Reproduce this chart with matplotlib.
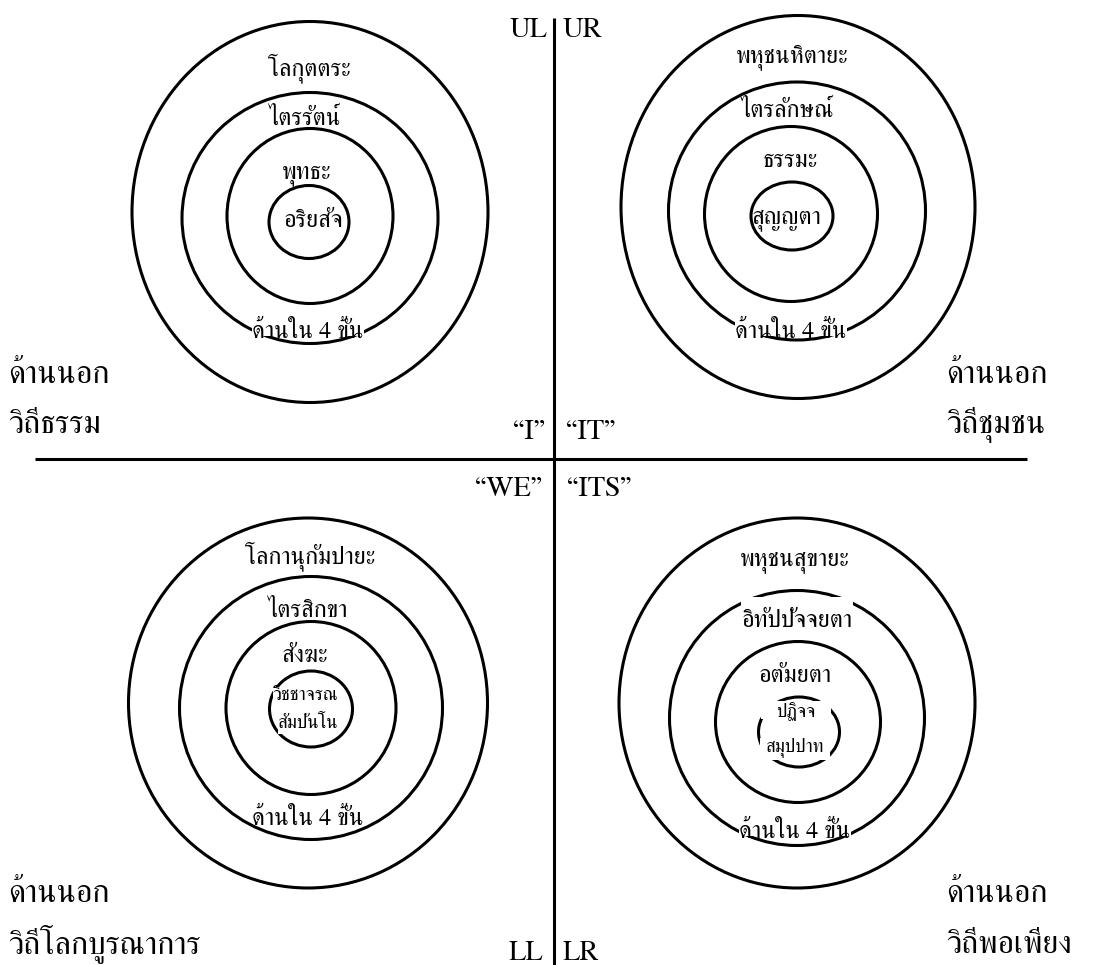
import matplotlib
matplotlib.use("Agg")
import matplotlib.pyplot as plt
from matplotlib.patches import Ellipse
from matplotlib.path import Path

# text content of the four quadrants
corner_tags = ["UL", "UR", "LL", "LR"]
pronoun_tags = ["“I”", "“IT”", "“WE”", "“ITS”"]
outer_word = "ด้านนอก"
way_labels = ["วิถีธรรม", "วิถีชุมชน", "วิถีโลกบูรณาการ", "วิถีพอเพียง"]
inner_caption = "ด้านใน 4 ขั้น"

ul_rings = ["โลกุตตระ", "ไตรรัตน์", "พุทธะ", "อริยสัจ"]
ur_rings = ["พหุชนหิตายะ", "ไตรลักษณ์", "ธรรมะ", "สุญญตา"]
ll_rings = ["โลกานุกัมปายะ", "ไตรสิกขา", "สังฆะ", "วิชชาจรณ", "สัมปันโน"]
lr_rings = ["พหุชนสุขายะ", "อิทัปปัจจยตา", "อตัมยตา", "ปฏิจจ", "สมุปปาท"]

FONT = ["FreeSerif", "DejaVu Serif"]
W, H = 1094, 965

fig = plt.figure(figsize=(W / 100, H / 100), dpi=100)
ax = fig.add_axes([0, 0, 1, 1])
ax.set_xlim(0, W)
ax.set_ylim(H, 0)
ax.axis("off")


def pad_box(left, right, top, bottom):
    """rectangular text background with separate pads (in em)"""
    def box(x0, y0, width, height, mutation_size):
        m = mutation_size
        xa, xb = x0 - left * m, x0 + width + right * m
        ya, yb = y0 - bottom * m, y0 + height + top * m
        return Path([(xa, ya), (xb, ya), (xb, yb), (xa, yb), (xa, ya)], closed=True)
    return box


def label(x, y, s, size, box=None, ha="center"):
    kw = {}
    if box is not None:
        kw["bbox"] = dict(boxstyle=pad_box(*box), fc="white", ec="none")
    ax.text(x, y, s, ha=ha, va="baseline", fontsize=size, family=FONT,
            color="black", zorder=5, **kw)


def rings(geoms):
    for cx, cy, w, h in geoms:
        ax.add_patch(Ellipse((cx, cy), w, h, fill=False, ec="black", lw=2.2, zorder=2))


# cross
ax.plot([554, 554], [18, H], color="black", lw=2.2, solid_capstyle="butt")
ax.plot([35, 1027], [459, 459], color="black", lw=2.2, solid_capstyle="butt")

# corner and pronoun tags
tag_size = 20.5
label(548, 37, corner_tags[0], tag_size, ha="right")
label(563, 37, corner_tags[1], tag_size, ha="left")
label(543, 960, corner_tags[2], tag_size, ha="right")
label(563, 960, corner_tags[3], tag_size, ha="left")
label(545, 439, pronoun_tags[0], tag_size, ha="right")
label(566, 439, pronoun_tags[1], tag_size, ha="left")
label(542, 496, pronoun_tags[2], tag_size, ha="right")
label(567, 496, pronoun_tags[3], tag_size, ha="left")

# outer labels
big = 23
label(8, 383, outer_word, big, ha="left")
label(8, 433, way_labels[0], big, ha="left")
label(946, 383, outer_word, big, ha="left")
label(946, 433, way_labels[1], big, ha="left")
label(8, 902, outer_word, big, ha="left")
label(8, 953, way_labels[2], big, ha="left")
label(946, 902, outer_word, big, ha="left")
label(946, 953, way_labels[3], big, ha="left")

ring_size = 17.5
small = 13.4
cap_box = (0.02, 0.02, 0.05, -0.3)

# UL
rings([(310, 212, 356, 381), (310, 218, 256, 251), (310, 216, 166, 175), (309, 222, 80, 73)])
for (x, y), s in zip([(309, 75), (304, 125), (307, 178), (313, 227)], ul_rings):
    label(x, y, s, ring_size)
label(308, 338, inner_caption, ring_size, box=cap_box)

# UR
rings([(798, 207, 354, 383), (797, 211, 257, 258), (791, 214, 173, 175), (792, 216, 82, 68)])
for (x, y), s in zip([(792, 62), (787, 117), (790, 167), (787, 223)], ur_rings):
    label(x, y, s, ring_size)
label(791, 338, inner_caption, ring_size, box=cap_box)

# LL
rings([(308, 703, 359, 370), (311, 708, 263, 263), (311, 708, 170, 173), (311, 709, 83, 76)])
for (x, y), s in zip([(310, 563), (307, 617), (305, 662)], ll_rings[:3]):
    label(x, y, s, ring_size)
label(305, 700, ll_rings[3], small, box=(-0.05, 0.0, 0.0, -0.25))
label(308, 728, ll_rings[4], small, box=(0.0, 0.0, -0.1, 0.1))
label(308, 825, inner_caption, ring_size, box=cap_box)

# LR
rings([(797, 703, 356, 370), (797, 718, 255, 255), (798, 722, 165, 161), (799, 732, 81, 70)])
label(795, 565, lr_rings[0], ring_size)
label(797, 627, lr_rings[1], ring_size, box=(0.0, 0.0, 0.55, 0.0))
label(795, 682, lr_rings[2], ring_size, box=(0.15, 0.15, 0.45, 0.0))
label(796, 717, lr_rings[3], small, box=(0.85, 0.85, 0.05, -0.1))
label(795, 752, lr_rings[4], small, box=(0.3, 0.3, 0.0, 0.1))
label(795, 838, inner_caption, ring_size, box=cap_box)

fig.savefig("out.png", dpi=100, facecolor="white")
